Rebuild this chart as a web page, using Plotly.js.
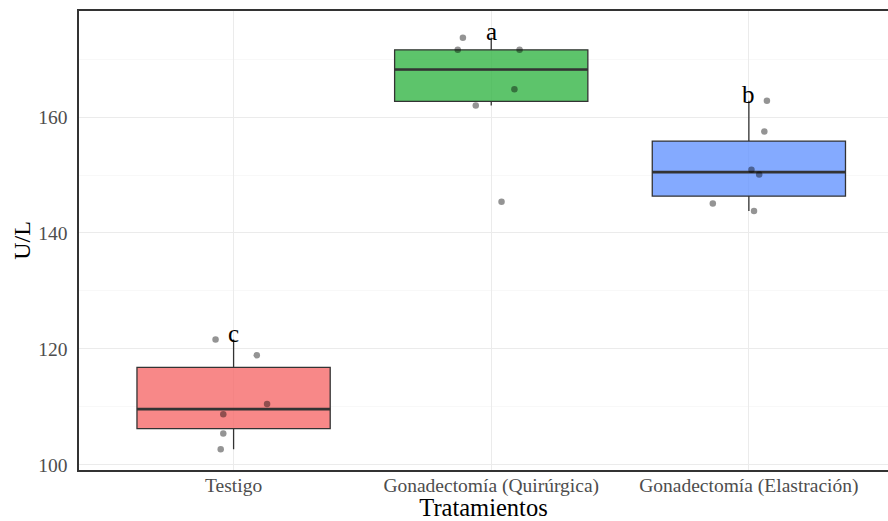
<!DOCTYPE html>
<html>
<head>
<meta charset="utf-8">
<script src="https://cdn.plot.ly/plotly-3.0.1.min.js"></script>
<style>
  html, body { margin: 0; padding: 0; background: #fff; }
  #chart { width: 888px; height: 521px; }
</style>
</head>
<body>
<div id="chart"></div>
<script>
// Treatment groups (x axis categories)
const categories = ['Testigo', 'Gonadectomía (Quirúrgica)', 'Gonadectomía (Elastración)'];

// Enzyme activity per animal, U/L
const testigo = [121.6, 118.9, 110.5, 108.7, 105.4, 102.7];
const quirurgica = [173.7, 171.6, 171.6, 164.8, 162.0, 145.4];
const elastracion = [162.8, 157.5, 150.9, 150.1, 145.1, 143.8];

// Horizontal jitter of each plotted point (category units)
const jitterTestigo = [-0.07, 0.09, 0.13, -0.04, -0.04, -0.05];
const jitterQuirurgica = [-0.11, -0.13, 0.11, 0.09, -0.06, 0.04];
const jitterElastracion = [0.07, 0.06, 0.01, 0.04, -0.14, 0.02];

// Letters of the mean-comparison test
const letters = ['c', 'a', 'b'];

const groups = [testigo, quirurgica, elastracion];
const jitters = [jitterTestigo, jitterQuirurgica, jitterElastracion];
const fills = ['rgba(246,106,106,0.8)', 'rgba(52,181,70,0.8)', 'rgba(101,149,255,0.8)'];
const boxWidth = 0.75;
const serif = '"Liberation Serif", "Times New Roman", serif';

// Sample quantile with linear interpolation between order statistics
function quantile(a, p) {
  const s = a.slice().sort((u, v) => u - v);
  const h = (s.length - 1) * p;
  const lo = Math.floor(h);
  const hi = Math.min(lo + 1, s.length - 1);
  return s[lo] + (h - lo) * (s[hi] - s[lo]);
}

function boxStats(vals) {
  const q1 = quantile(vals, 0.25);
  const med = quantile(vals, 0.5);
  const q3 = quantile(vals, 0.75);
  const iqr = q3 - q1;
  const inside = vals.filter(v => v >= q1 - 1.5 * iqr && v <= q3 + 1.5 * iqr);
  return { q1, med, q3, lf: Math.min(...inside), uf: Math.max(...inside) };
}

const traces = [];

groups.forEach((vals, i) => {
  const st = boxStats(vals);
  traces.push({
    type: 'box',
    x: [i],
    q1: [st.q1],
    median: [st.med],
    q3: [st.q3],
    lowerfence: [st.lf],
    upperfence: [st.uf],
    width: boxWidth,
    boxpoints: false,
    fillcolor: fills[i],
    line: { color: '#333333', width: 1.3 },
    whiskerwidth: 0,
    hoverinfo: 'y',
    showlegend: false
  });
  // thicker median bar
  traces.push({
    type: 'scatter',
    mode: 'lines',
    x: [i - boxWidth / 2, i + boxWidth / 2],
    y: [st.med, st.med],
    line: { color: '#333333', width: 2.6 },
    hoverinfo: 'skip',
    showlegend: false
  });
});

// Individual observations
groups.forEach((vals, i) => {
  traces.push({
    type: 'scatter',
    mode: 'markers',
    x: vals.map((v, k) => i + jitters[i][k]),
    y: vals,
    marker: { color: 'rgba(0,0,0,0.42)', size: 6.5, line: { width: 0 } },
    hoverinfo: 'y',
    showlegend: false
  });
});

const annotations = groups.map((vals, i) => ({
  x: i,
  y: Math.max(...vals),
  xref: 'x',
  yref: 'y',
  text: letters[i],
  showarrow: false,
  yanchor: 'bottom',
  yshift: -9,
  font: { family: serif, size: 25, color: '#000000' }
}));

const layout = {
  width: 888,
  height: 521,
  margin: { l: 79, r: 0, t: 11, b: 51 },
  paper_bgcolor: '#ffffff',
  plot_bgcolor: '#ffffff',
  font: { family: serif },
  annotations: annotations,
  xaxis: {
    range: [-0.6, 2.54],
    tickmode: 'array',
    tickvals: [0, 1, 2],
    ticktext: categories,
    showgrid: true,
    gridcolor: '#ebebeb',
    gridwidth: 1,
    zeroline: false,
    showline: true,
    mirror: true,
    linecolor: '#333333',
    linewidth: 1.6,
    ticks: '',
    ticklabelstandoff: -3,
    tickfont: { family: serif, size: 19.5, color: '#4d4d4d' },
    title: { text: 'Tratamientos', font: { family: serif, size: 24.5, color: '#000000' }, standoff: 2 }
  },
  yaxis: {
    range: [99.1, 178.3],
    tick0: 100,
    dtick: 20,
    showgrid: true,
    gridcolor: '#ebebeb',
    gridwidth: 1,
    minor: { dtick: 10, showgrid: true, gridcolor: '#f3f3f3', gridwidth: 0.6 },
    zeroline: false,
    showline: true,
    linecolor: '#333333',
    linewidth: 1.6,
    ticks: '',
    ticklabelstandoff: 6,
    tickfont: { family: serif, size: 19.5, color: '#4d4d4d' },
    title: { text: 'U/L', font: { family: serif, size: 24, color: '#000000' }, standoff: 1 }
  }
};

Plotly.newPlot('chart', traces, layout, { displayModeBar: false, staticPlot: true });
</script>
</body>
</html>
